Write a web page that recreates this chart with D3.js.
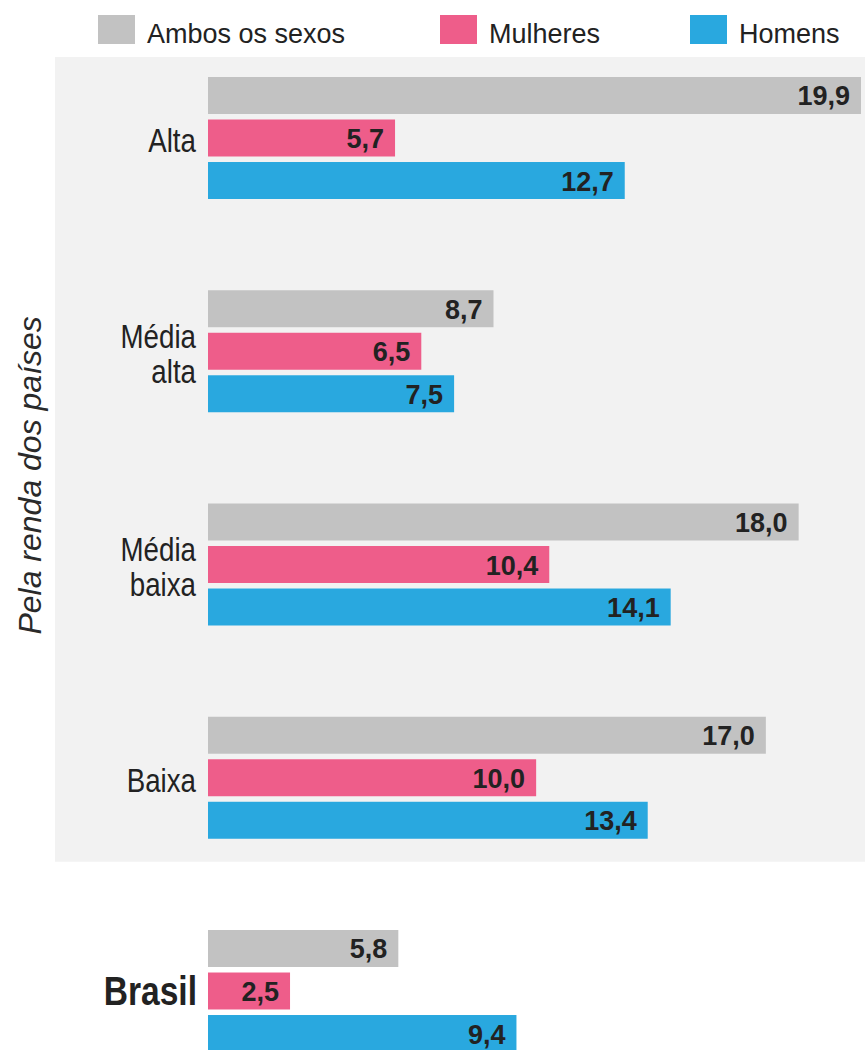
<!DOCTYPE html>
<html lang="pt">
<head>
<meta charset="utf-8">
<script src="https://cdn.jsdelivr.net/npm/d3@7"></script>
<style>
  html, body { margin: 0; padding: 0; background: #ffffff; }
  svg { display: block; }
</style>
</head>
<body>
<svg id="chart" width="865" height="1050"></svg>
<script>
// Categorias de renda + Brasil
const categories = ["Alta", "Média alta", "Média baixa", "Baixa", "Brasil"];
const seriesNames = ["Ambos os sexos", "Mulheres", "Homens"];
const seriesColors = ["#c2c2c2", "#ee5d8a", "#29a8df"];

// Valores por série (mesma ordem das categorias)
const ambos    = [19.9, 8.7, 18.0, 17.0, 5.8];
const mulheres = [5.7, 6.5, 10.4, 10.0, 2.5];
const homens   = [12.7, 7.5, 14.1, 13.4, 9.4];

const axisTitle = "Pela renda dos países";

const seriesValues = [ambos, mulheres, homens];
const rows = categories.map((c, i) => ({
  category: c,
  values: seriesNames.map((s, j) => ({ series: s, value: seriesValues[j][i], color: seriesColors[j] }))
}));

const svg = d3.select("#chart");
const W = 865, H = 1050;

const ptLocale = d3.formatLocale({ decimal: ",", thousands: ".", grouping: [3], currency: ["R$", ""] });
const fmt = ptLocale.format(".1f");

// Escalas
const x = d3.scaleLinear().domain([0, 19.9]).range([208, 861]);
const y0 = d3.scaleBand().domain(categories).range([77, 77 + 213.25 * categories.length]).paddingInner(0).paddingOuter(0);
const y1 = d3.scaleBand().domain(seriesNames).range([0, 122]).paddingInner(0.13).paddingOuter(0);

// Painel cinza das categorias de renda
const incomeCats = categories.slice(0, 4);
const panelTop = 57, panelBottom = y0(incomeCats[3]) + 122 + 23;
svg.append("rect")
  .attr("x", 55).attr("y", panelTop)
  .attr("width", W - 55)
  .attr("height", panelBottom - panelTop)
  .attr("fill", "#f2f2f2");

// Legenda
const legendX = [98, 440, 690];
const legend = svg.append("g").attr("class", "legend");
seriesNames.forEach((s, j) => {
  legend.append("rect")
    .attr("x", legendX[j]).attr("y", 15)
    .attr("width", 37).attr("height", 29)
    .attr("fill", seriesColors[j]);
  legend.append("text")
    .attr("x", legendX[j] + 49).attr("y", 43)
    .attr("font-family", "'Liberation Sans', Arial, sans-serif")
    .attr("font-size", 27)
    .attr("fill", "#222")
    .text(s);
});

// Título do eixo vertical
svg.append("text")
  .attr("transform", `translate(41, ${(panelTop + panelBottom) / 2 + 16}) rotate(-90)`)
  .attr("text-anchor", "middle")
  .attr("font-family", "'Liberation Sans', Arial, sans-serif")
  .attr("font-style", "italic")
  .attr("font-size", 32)
  .attr("fill", "#2a2a2a")
  .text(axisTitle);

// Grupos de barras
const groups = svg.append("g").selectAll("g.group")
  .data(rows).join("g")
  .attr("class", "group")
  .attr("transform", d => `translate(0, ${y0(d.category)})`);

groups.selectAll("rect.bar")
  .data(d => d.values).join("rect")
  .attr("class", "bar")
  .attr("x", x(0))
  .attr("y", d => y1(d.series))
  .attr("width", d => x(d.value) - x(0))
  .attr("height", y1.bandwidth())
  .attr("fill", d => d.color);

groups.selectAll("text.value")
  .data(d => d.values).join("text")
  .attr("class", "value")
  .attr("x", d => x(d.value) - 11)
  .attr("y", d => y1(d.series) + y1.bandwidth() / 2 + 10)
  .attr("text-anchor", "end")
  .attr("font-family", "'Liberation Sans', Arial, sans-serif")
  .attr("font-weight", "bold")
  .attr("font-size", 27)
  .attr("fill", "#222")
  .text(d => fmt(d.value));

// Rótulos das categorias (fonte condensada horizontalmente)
const midY = y1("Mulheres") + y1.bandwidth() / 2;
groups.each(function(d) {
  const g = d3.select(this);
  const isBrasil = d.category === "Brasil";
  const words = d.category.split(" ");
  const lh = 35;
  const t = g.append("g")
    .attr("transform", `translate(${isBrasil ? 197 : 196}, 0) scale(0.84, 1)`)
    .append("text")
    .attr("text-anchor", "end")
    .attr("font-family", "'Liberation Sans', Arial, sans-serif")
    .attr("font-weight", isBrasil ? "bold" : "normal")
    .attr("font-size", isBrasil ? 40 : 33)
    .attr("fill", "#222");
  words.forEach((w, k) => {
    t.append("tspan")
      .attr("x", 0)
      .attr("y", midY + 14 + (k - (words.length - 1) / 2) * lh)
      .text(w);
  });
});
</script>
</body>
</html>
